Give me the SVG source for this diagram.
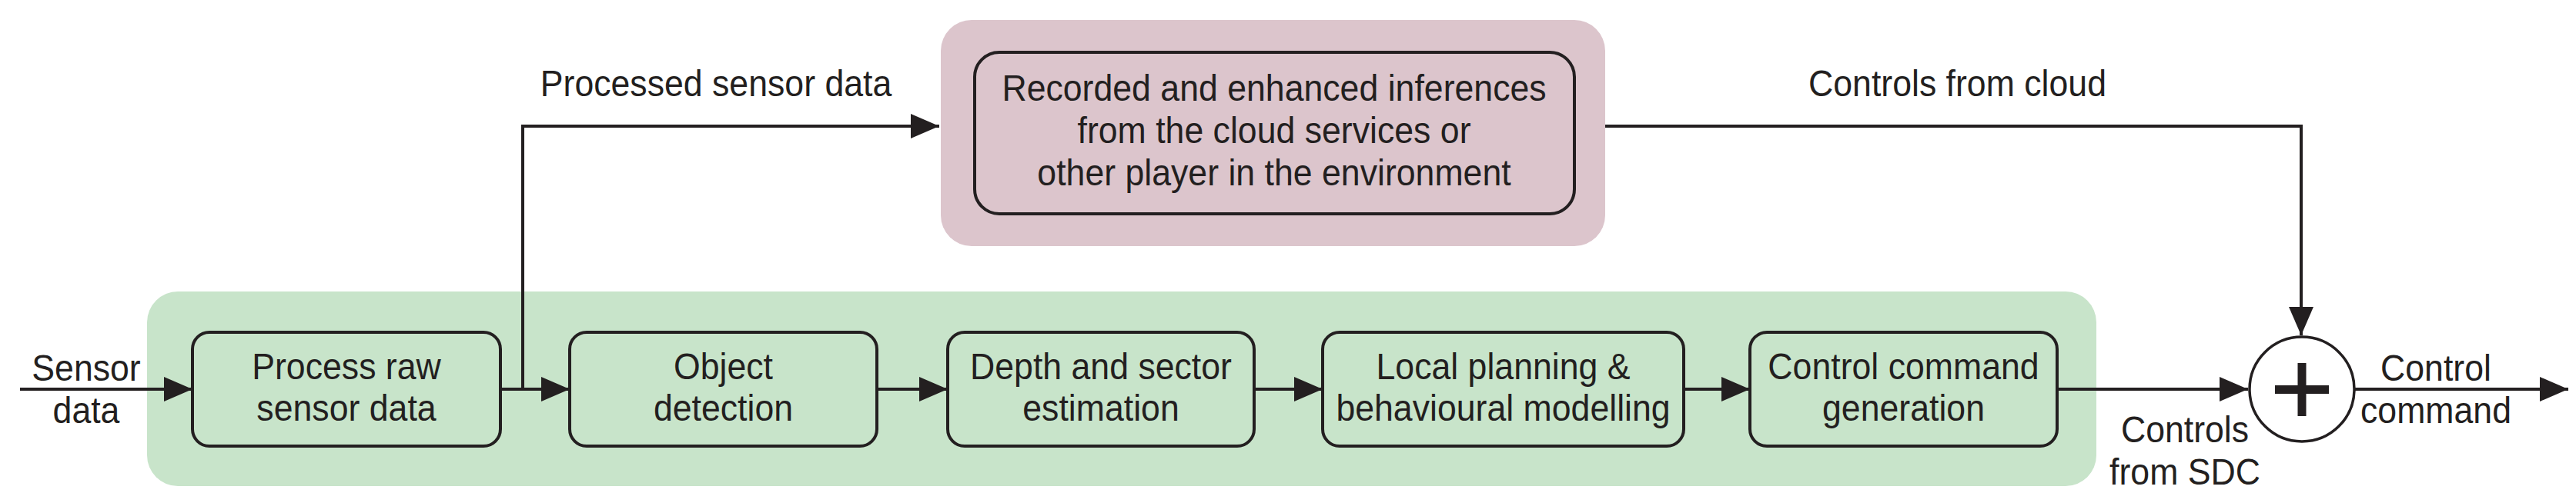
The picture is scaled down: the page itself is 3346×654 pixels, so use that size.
<svg xmlns="http://www.w3.org/2000/svg" width="3346" height="654" viewBox="0 0 3346 654">
  <style>
    .t { font-family: "Liberation Sans", Arial, sans-serif; font-size: 48px; fill: #231f20; text-anchor: middle; }
    .ts { font-family: "Liberation Sans", Arial, sans-serif; font-size: 48px; fill: #231f20; text-anchor: start; }
    .box { fill: none; stroke: #231f20; stroke-width: 4; }
    .bg-green { fill: #c8e4ca; }
    .bg-pink { fill: #dcc5cc; }
    .conn { fill: none; stroke: #231f20; stroke-width: 4; }
  </style>
  <defs>
    <marker id="arrow" viewBox="0 0 37 32" refX="37" refY="16" markerWidth="37" markerHeight="32" markerUnits="userSpaceOnUse" orient="auto">
      <path d="M0,0 L37,16 L0,32 z" fill="#231f20"/>
    </marker>
  </defs>

  <g id="sdc-region">
    <rect class="bg-green" x="191" y="379" width="2532" height="253" rx="40"/>
  </g>
  <g id="cloud-region">
    <rect class="bg-pink" x="1222" y="26" width="863" height="294" rx="40"/>
  </g>

  <g id="cloud-box">
    <rect class="box" x="1266" y="68" width="779" height="210" rx="32"/>
    <text class="t" transform="translate(1655,131) scale(0.93,1)">Recorded and enhanced inferences</text>
    <text class="t" transform="translate(1655,186) scale(0.93,1)">from the cloud services or</text>
    <text class="t" transform="translate(1655,241) scale(0.93,1)">other player in the environment</text>
  </g>

  <g id="process-raw">
    <rect class="box" x="250" y="432" width="400" height="148" rx="22"/>
    <text class="t" transform="translate(450,493) scale(0.93,1)">Process raw</text>
    <text class="t" transform="translate(450,547) scale(0.93,1)">sensor data</text>
  </g>
  <g id="object-detection">
    <rect class="box" x="740" y="432" width="399" height="148" rx="22"/>
    <text class="t" transform="translate(939.5,493) scale(0.93,1)">Object</text>
    <text class="t" transform="translate(939.5,547) scale(0.93,1)">detection</text>
  </g>
  <g id="depth-sector">
    <rect class="box" x="1231" y="432" width="398" height="148" rx="22"/>
    <text class="t" transform="translate(1430,493) scale(0.93,1)">Depth and sector</text>
    <text class="t" transform="translate(1430,547) scale(0.93,1)">estimation</text>
  </g>
  <g id="local-planning">
    <rect class="box" x="1718" y="432" width="469" height="148" rx="22"/>
    <text class="t" transform="translate(1952.5,493) scale(0.93,1)">Local planning &amp;</text>
    <text class="t" transform="translate(1952.5,547) scale(0.93,1)">behavioural modelling</text>
  </g>
  <g id="control-command-gen">
    <rect class="box" x="2273" y="432" width="399" height="148" rx="22"/>
    <text class="t" transform="translate(2472.5,493) scale(0.93,1)">Control command</text>
    <text class="t" transform="translate(2472.5,547) scale(0.93,1)">generation</text>
  </g>

  <g id="sum">
    <circle cx="2990" cy="506" r="68" fill="#ffffff" stroke="#231f20" stroke-width="3.5"/>
    <rect x="2955" y="501" width="70" height="11" fill="#231f20"/>
    <rect x="2984.5" y="472" width="11" height="69" fill="#231f20"/>
  </g>

  <g id="connectors">
    <path class="conn" d="M26,506 H250" marker-end="url(#arrow)"/>
    <path class="conn" d="M650,506 H740" marker-end="url(#arrow)"/>
    <path class="conn" d="M679,506 V164 H1220" marker-end="url(#arrow)"/>
    <path class="conn" d="M1139,506 H1231" marker-end="url(#arrow)"/>
    <path class="conn" d="M1629,506 H1718" marker-end="url(#arrow)"/>
    <path class="conn" d="M2187,506 H2273" marker-end="url(#arrow)"/>
    <path class="conn" d="M2672,506 H2920" marker-end="url(#arrow)"/>
    <path class="conn" d="M2085,164 H2989 V436" marker-end="url(#arrow)"/>
    <path class="conn" d="M3058,506 H3336" marker-end="url(#arrow)"/>
  </g>

  <g id="labels">
    <text class="t" transform="translate(112,495) scale(0.93,1)">Sensor</text>
    <text class="t" transform="translate(112,550) scale(0.93,1)">data</text>
    <text class="t" transform="translate(930,125) scale(0.93,1)">Processed sensor data</text>
    <text class="ts" transform="translate(2349,125) scale(0.93,1)">Controls from cloud</text>
    <text class="t" transform="translate(2838,575) scale(0.93,1)">Controls</text>
    <text class="t" transform="translate(2838,630) scale(0.93,1)">from SDC</text>
    <text class="t" transform="translate(3164,495) scale(0.93,1)">Control</text>
    <text class="t" transform="translate(3164,550) scale(0.93,1)">command</text>
  </g>
</svg>
